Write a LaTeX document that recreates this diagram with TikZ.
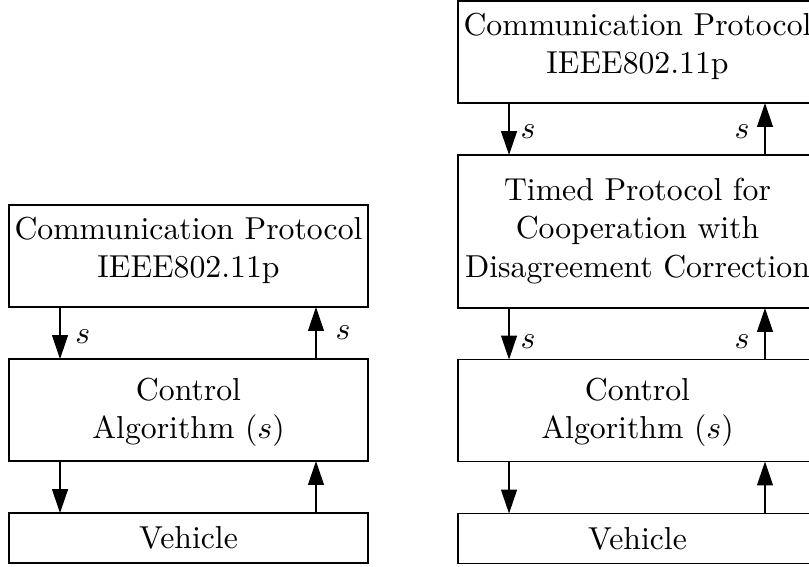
\documentclass[tikz,border=0pt]{standalone}
\usetikzlibrary{arrows.meta}
\begin{document}
\begin{tikzpicture}[x=0.315pt,y=-0.315pt,
  box/.style={draw, line width=0.4pt, inner sep=0pt, outer sep=0pt, minimum width=113.085pt},
  tall/.style={box, minimum height=32.13pt},
  taller/.style={box, minimum height=48.2pt},
  short/.style={box, minimum height=15.75pt},
  txt/.style={align=center, inner sep=0pt, outer sep=0pt},
  arr/.style={-{Triangle[length=7.5pt,width=5pt]}, line width=0.4pt},
  lab/.style={inner sep=0pt}]
\useasboundingbox (0,0) rectangle (809,566);
% left column
\node[tall]  (lcomm) at (188.5,256) {};
\node[tall]  (lctrl) at (188.5,410) {};
\node[short] (lveh)  at (188.5,538) {};
\node[txt] (lcommt) at (188.5,250) {Communication Protocol\\IEEE802.11p};
\node[txt] (lctrlt) at (188.5,412.5) {Control\\Algorithm ($s$)};
\node[txt] (lveht)  at (188.5,538) {Vehicle};
\draw[arr] ([xshift=16.07pt]lcomm.south west) -- node[lab, pos=0.57, xshift=7.2pt] {$s$} ([xshift=16.07pt]lctrl.north west);
\draw[arr] ([xshift=96.7pt]lctrl.north west) -- node[lab, pos=0.5, xshift=8.5pt] {$s$} ([xshift=96.7pt]lcomm.south west);
\draw[arr] ([xshift=16.07pt]lctrl.south west) -- ([xshift=16.07pt]lveh.north west);
\draw[arr] ([xshift=96.7pt]lveh.north west) -- ([xshift=96.7pt]lctrl.south west);
% right column
\node[tall]   (rcomm)  at (637.5,52) {};
\node[taller] (rtimed) at (637.5,231.5) {};
\node[tall]   (rctrl)  at (637.5,410.5) {};
\node[short]  (rveh)   at (637.5,538.5) {};
\node[txt] (rcommt)  at (637.5,46) {Communication Protocol\\IEEE802.11p};
\node[txt] (rtimedt) at (637.5,231) {Timed Protocol for\\Cooperation with\\Disagreement Correction};
\node[txt] (rctrlt)  at (637.5,412.5) {Control\\Algorithm ($s$)};
\node[txt] (rveht)   at (637.5,539) {Vehicle};
\draw[arr] ([xshift=16.07pt]rcomm.south west) -- node[lab, pos=0.56, xshift=6pt] {$s$} ([xshift=16.07pt]rtimed.north west);
\draw[arr] ([xshift=96.7pt]rtimed.north west) -- node[lab, pos=0.44, xshift=-7.2pt] {$s$} ([xshift=96.7pt]rcomm.south west);
\draw[arr] ([xshift=16.07pt]rtimed.south west) -- node[lab, pos=0.66, xshift=6pt] {$s$} ([xshift=16.07pt]rctrl.north west);
\draw[arr] ([xshift=96.7pt]rctrl.north west) -- node[lab, pos=0.34, xshift=-7.2pt] {$s$} ([xshift=96.7pt]rtimed.south west);
\draw[arr] ([xshift=16.07pt]rctrl.south west) -- ([xshift=16.07pt]rveh.north west);
\draw[arr] ([xshift=96.7pt]rveh.north west) -- ([xshift=96.7pt]rctrl.south west);
\end{tikzpicture}
\end{document}
